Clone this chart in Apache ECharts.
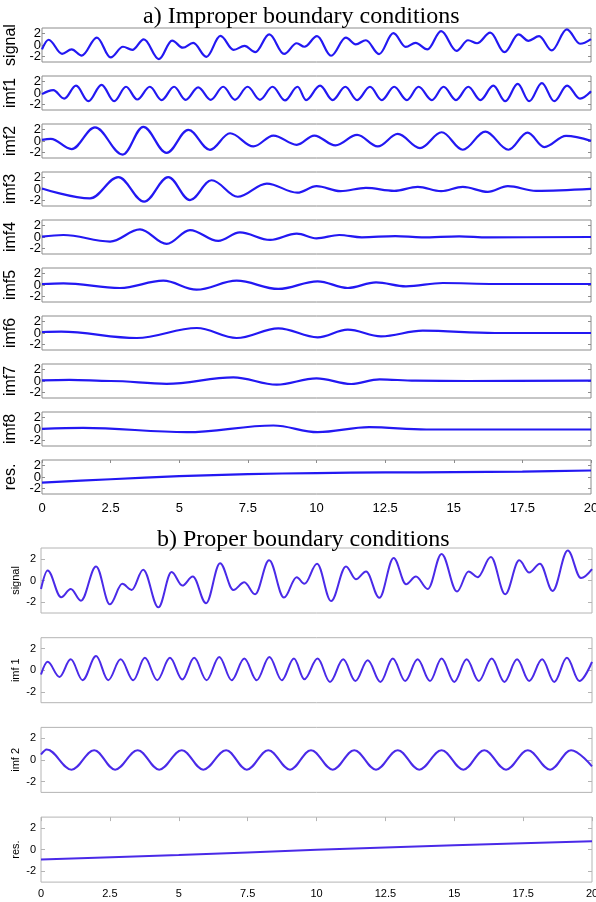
<!DOCTYPE html>
<html><head><meta charset="utf-8">
<script src="https://cdn.jsdelivr.net/npm/echarts@6/dist/echarts.min.js"></script>
<style>html,body{margin:0;padding:0;background:#fff}#c{width:596px;height:902px}</style>
</head><body><div id="c"></div>
<script>
// ---------- data (extrema / key points) ----------
const titleA = 'a) Improper boundary conditions';
const titleB = 'b) Proper boundary conditions';
const namesA = ['signal','imf1','imf2','imf3','imf4','imf5','imf6','imf7','imf8','res.'];
const namesB = ['signal','imf 1','imf 2','res.'];
const yTickValues = [-2, 0, 2];
const xTickInterval = 2.5;

const signal = [[0,-0.78],[0.24,0.93],[0.73,-1.55],[1.08,-0.78],[1.45,-1.86],[2.0,1.3],[2.5,-2.2],[2.95,-0.31],[3.29,-0.87],[3.71,1.0],[4.26,-2.48],[4.74,0.78],[5.13,-0.47],[5.51,0.37],[5.99,-2.1],[6.5,1.6],[6.98,-0.87],[7.38,-0.16],[7.77,-1.27],[8.28,1.86],[8.82,-1.58],[9.28,0.31],[9.56,-0.31],[10.02,1.55],[10.53,-1.9],[11.07,1.3],[11.43,0.12],[11.8,0.84],[12.28,-1.6],[12.8,2.08],[13.25,-0.34],[13.61,0.37],[14.04,-0.78],[14.54,2.45],[15.1,-1.02],[15.52,0.84],[15.85,0.31],[16.33,2.17],[16.85,-1.27],[17.36,1.86],[17.72,0.74],[18.11,1.55],[18.57,-0.96],[19.12,2.76],[19.6,0.22],[20,1.05]];

const imf1A = [[0,-0.2],[0.41,0.5],[0.81,-1.0],[1.24,1.3],[1.69,-1.45],[2.17,1.45],[2.63,-1.45],[3.06,1.1],[3.47,-1.15],[3.93,1.1],[4.36,-1.25],[4.81,1.1],[5.23,-1.2],[5.69,1.0],[6.15,-1.2],[6.6,1.1],[7.03,-1.2],[7.49,1.1],[7.94,-1.2],[8.4,1.1],[8.85,-1.3],[9.31,1.1],[9.62,-1.25],[10.13,1.3],[10.59,-1.25],[11.05,1.1],[11.48,-1.25],[11.95,1.1],[12.38,-1.25],[12.83,1.1],[13.29,-1.25],[13.72,1.1],[14.2,-1.25],[14.63,1.1],[15.08,-1.25],[15.53,1.1],[15.97,-1.25],[16.44,1.3],[16.88,-1.45],[17.33,1.6],[17.75,-1.45],[18.21,1.75],[18.66,-1.45],[19.13,1.3],[19.6,-1.0],[20,0.3]];
const imf2A = [[0,0.2],[0.32,0.38],[1.08,-1.42],[1.93,2.4],[2.94,-2.4],[3.69,2.5],[4.54,-2.1],[5.33,1.95],[6.12,-1.55],[6.85,1.37],[7.7,-0.96],[8.43,0.96],[9.28,-0.67],[9.92,0.96],[10.69,-0.78],[11.48,1.07],[12.23,-0.96],[12.96,1.25],[13.77,-1.25],[14.56,1.54],[15.33,-1.54],[16.15,1.66],[16.99,-1.54],[17.69,1.48],[18.3,-1.07],[19.09,0.9],[20,0.03]];
const imf3A = [[0,0.1],[1.75,-1.66],[2.78,2.1],[3.72,-2.24],[4.6,2.1],[5.39,-1.95],[6.18,1.54],[7.13,-1.37],[8.19,0.96],[9.3,-0.65],[10.0,0.5],[10.87,-0.38],[11.8,0.2],[12.83,-0.32],[13.69,0.38],[14.54,-0.38],[15.33,0.38],[16.24,-0.5],[16.97,0.5],[18.0,-0.32],[20,0.03]];
const imf4A = [[0,0.06],[0.78,0.35],[2.48,-0.8],[3.57,1.34],[4.54,-1.22],[5.39,1.22],[6.42,-0.7],[7.21,0.81],[8.31,-0.52],[9.28,0.6],[10.0,-0.23],[10.83,0.35],[11.65,-0.06],[12.87,0.17],[13.83,-0.06],[15.2,0.12],[16.24,-0.06],[20,0.0]];
const imf5A = [[0,0.18],[0.78,0.3],[2.84,-0.53],[4.42,0.76],[5.63,-0.82],[7.09,0.76],[8.61,-0.7],[10.04,0.65],[11.14,-0.53],[12.17,0.47],[13.26,-0.24],[14.6,0.35],[16.5,0.18],[20,0.18]];
const imf6A = [[0,0.18],[0.7,0.24],[3.45,-0.88],[5.64,0.88],[7.09,-0.88],[8.61,0.82],[10.04,-0.76],[11.14,0.59],[12.35,-0.59],[13.87,0.41],[16.5,0.0],[20,0.0]];
const imf7A = [[0,0.1],[1.0,0.2],[2.5,0.0],[4.54,-0.5],[6.97,0.65],[8.55,-0.65],[10.0,0.47],[11.26,-0.53],[12.3,0.3],[13.6,0.05],[15.5,0.0],[20,0.05]];
const imf8A = [[0,0.03],[1.5,0.2],[5.27,-0.56],[8.43,0.62],[10.04,-0.56],[11.92,0.32],[14.0,-0.09],[20,-0.09]];
const resA = [[0,-1.0],[2.5,-0.4],[5,0.15],[7.5,0.5],[10,0.7],[12.5,0.8],[15,0.85],[17.5,0.95],[20,1.15]];

const imf1B = [[0,-0.4],[0.24,0.77],[0.67,-0.62],[1.08,1.0],[1.51,-0.92],[2.0,1.3],[2.44,-0.92],[2.89,1.0],[3.35,-0.92],[3.77,1.14],[4.22,-0.92],[4.68,1.14],[5.13,-0.86],[5.56,1.14],[6.01,-0.92],[6.47,1.23],[6.92,-0.92],[7.38,1.08],[7.83,-0.92],[8.29,1.23],[8.74,-0.92],[9.18,1.08],[9.56,-0.83],[10.04,1.08],[10.49,-1.08],[10.97,1.0],[11.41,-1.0],[11.86,0.92],[12.32,-1.08],[12.77,1.08],[13.22,-1.0],[13.67,1.0],[14.12,-1.0],[14.54,1.08],[15.0,-1.08],[15.45,1.0],[15.89,-1.0],[16.36,1.08],[16.82,-1.08],[17.28,1.0],[17.72,-1.0],[18.19,1.0],[18.63,-1.08],[19.09,1.14],[19.54,-1.0],[20,0.77]];
const imf2B = [[0,0.5],[0.21,0.97],[1.11,-0.9],[1.93,0.9],[2.69,-0.9],[3.51,0.9],[4.29,-0.9],[5.11,0.9],[5.89,-0.9],[6.72,0.9],[7.47,-0.9],[8.25,0.9],[9.04,-0.9],[9.8,0.9],[10.59,-0.9],[11.37,0.9],[12.16,-0.9],[12.95,0.9],[13.73,-0.9],[14.54,0.9],[15.33,-0.9],[16.09,0.9],[16.88,-0.9],[17.67,0.9],[18.48,-0.9],[19.24,0.9],[20,-0.6]];
const resB = [[0,-0.92],[5,-0.5],[10,-0.02],[15,0.4],[20,0.78]];

const panelsA = [signal, imf1A, imf2A, imf3A, imf4A, imf5A, imf6A, imf7A, imf8A, resA];
const panelsB = [signal, imf1B, imf2B, resB];

// ---------- layout ----------
const grids = [], xAxes = [], yAxes = [], series = [];
function labelAxis(g, values, st) {
  return {type: 'value', gridIndex: g, min: -3, max: 3, position: 'left', offset: 0,
    splitLine: {show: false}, axisLine: {show: false, onZero: false}, axisTick: {show: false},
    axisLabel: {show: true, hideOverlap: false, showMinLabel: true, showMaxLabel: true, customValues: values,
      color: '#000', fontSize: st.yFont, fontFamily: 'Liberation Sans, Arial', margin: st.yMargin}};
}
function addPanel(data, name, box, st, isLast) {
  const g = grids.length;
  grids.push({left: box.left, top: box.top, width: box.width, height: box.height,
    show: true, borderColor: st.frame, borderWidth: 1, backgroundColor: 'transparent',
    containLabel: false, outerBoundsMode: 'none'});
  const xi = xAxes.length;
  xAxes.push({type: 'value', gridIndex: g, min: 0, max: 20, interval: xTickInterval,
    position: 'bottom', splitLine: {show: false}, axisLine: {show: false, onZero: false},
    axisTick: {show: false},
    axisLabel: {show: isLast, hideOverlap: false, showMinLabel: true, showMaxLabel: true, color: '#000', fontSize: st.xFont, fontFamily: 'Liberation Sans, Arial', margin: st.xMargin}});
  if (isLast) {
    xAxes.push({type: 'value', gridIndex: g, min: 0, max: 20, interval: xTickInterval,
      position: 'top', splitLine: {show: false}, axisLine: {show: false, onZero: false},
      axisTick: {show: true, inside: true, length: st.tickLen, lineStyle: {color: st.tick}},
      axisLabel: {show: false}});
  }
  const yi = yAxes.length;
  // main left axis: ticks + name (+ labels of the outer ticks)
  const mainLabels = st.splitLabels ? [yTickValues[0], yTickValues[2]] : yTickValues;
  const main = labelAxis(g, mainLabels, st);
  main.axisTick = {show: true, inside: true, length: st.tickLen, customValues: yTickValues, lineStyle: {color: st.tick}};
  Object.assign(main, {name: name, nameLocation: 'middle', nameRotate: 90, nameGap: st.nameGap, nameMoveOverlap: false,
    nameTextStyle: {color: '#000', fontSize: st.nameFont, fontFamily: 'Liberation Sans, Arial'}});
  yAxes.push(main);
  yAxes.push({type: 'value', gridIndex: g, min: -3, max: 3, position: 'right',
    splitLine: {show: false}, axisLine: {show: false, onZero: false},
    axisTick: {show: true, inside: true, length: st.tickLen, customValues: yTickValues, lineStyle: {color: st.tick}},
    axisLabel: {show: false}});
  // the crowded middle label drawn by its own overlay axis so it is not suppressed
  if (st.splitLabels) yAxes.push(labelAxis(g, [yTickValues[1]], st));
  // the trend (res.) is drawn with ordinary smoothing; oscillating modes use flat tangents at their extrema
  series.push({type: 'line', xAxisIndex: xi, yAxisIndex: yi, data: data,
    smooth: isLast ? 0.3 : 0.36, smoothMonotone: isLast ? null : 'x', showSymbol: false, silent: true,
    lineStyle: {width: st.lw, color: st.color}, itemStyle: {color: st.color}});
}

const stA = {frame: '#8c8c8c', tick: '#8c8c8c', tickLen: 3, xFont: 13, xMargin: 8, yFont: 13, yMargin: 1, splitLabels: true,
  nameGap: 23, nameFont: 16, lw: 2.2, color: '#2318f2'};
const stB = {frame: '#b4b4b4', tick: '#b4b4b4', tickLen: 4, xFont: 11, xMargin: 6, yFont: 11, yMargin: 5, splitLabels: false,
  nameGap: 20, nameFont: 11, lw: 2, color: '#4a2ae8'};

panelsA.forEach((d, i) => addPanel(d, namesA[i], {left: 42, top: 28 + 48 * i, width: 549, height: 34}, stA, i === panelsA.length - 1));
panelsB.forEach((d, i) => addPanel(d, namesB[i], {left: 41, top: 548 + 89.7 * i, width: 551, height: 65}, stB, i === panelsB.length - 1));

const chart = echarts.init(document.getElementById('c'), null, {renderer: 'canvas'});
chart.setOption({
  animation: false,
  backgroundColor: '#fff',
  title: [
    {text: titleA, left: 143, top: 5, padding: 0, textStyle: {fontFamily: 'Liberation Serif, Times New Roman', fontWeight: 'normal', fontSize: 24, color: '#000'}},
    {text: titleB, left: 157, top: 528, padding: 0, textStyle: {fontFamily: 'Liberation Serif, Times New Roman', fontWeight: 'normal', fontSize: 24, color: '#000'}}
  ],
  grid: grids, xAxis: xAxes, yAxis: yAxes, series: series
});
</script></body></html>
